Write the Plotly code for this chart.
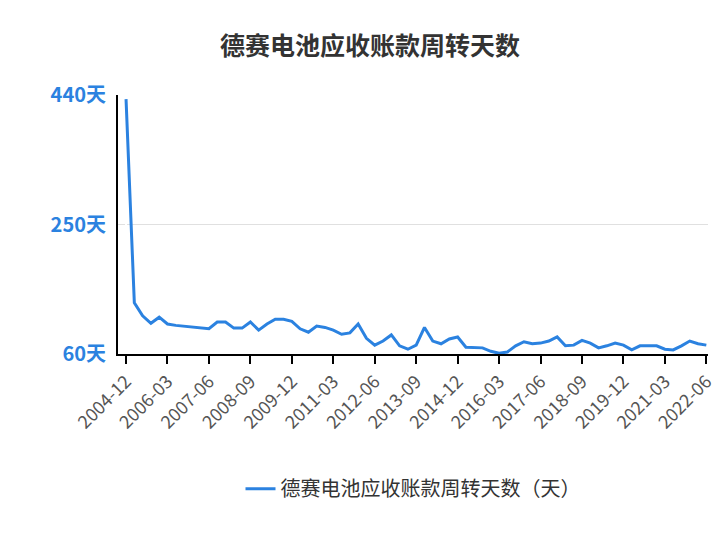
import pandas as pd
import plotly.graph_objects as go

quarters = [str(p.end_time.strftime("%Y-%m")) for p in pd.period_range("2004Q4", "2022Q2", freq="Q")]
days = [434, 135, 116, 105, 114, 104, 102, 101, 99, 98,
        97, 107, 107, 98, 98, 107, 95, 104, 111, 111,
        108, 97, 92, 101, 99, 95, 89, 91, 104, 83,
        73, 79, 88, 72, 67, 73, 99, 79, 75, 82,
        85, 70, 70, 69, 64, 61, 63, 72, 78, 75,
        76, 79, 85, 72, 73, 80, 76, 69, 72, 76,
        73, 66, 72, 72, 72, 67, 66, 72, 79, 75, 73]
tick_labels = quarters[::5]

fig = go.Figure()
fig.add_trace(go.Scatter(
    x=list(range(len(quarters))), y=days, mode="lines",
    name="德赛电池应收账款周转天数（天）",
    line=dict(color="#2b82e0", width=3),
))

fig.update_layout(
    width=724, height=540,
    paper_bgcolor="white", plot_bgcolor="white",
    font=dict(family="Noto Sans CJK SC", color="#333"),
    title=dict(text="<b>德赛电池应收账款周转天数</b>", x=0.5, y=0.945, xanchor="center",
               font=dict(size=25, color="#333")),
    margin=dict(l=110, r=24, t=87, b=194, autoexpand=False),
    showlegend=True,
    legend=dict(orientation="h", x=0.5, xanchor="center", y=-0.52, yanchor="middle",
                font=dict(size=20, color="#333")),
    xaxis=dict(
        range=[-0.97, 70.2], tickvals=list(range(0, len(quarters), 5)), ticktext=tick_labels,
        tickangle=-45, ticks="outside", ticklen=8, tickcolor="black", tickwidth=2,
        showline=True, linecolor="black", linewidth=2, showgrid=False, automargin=False,
        tickfont=dict(size=18, color="#555"),
    ),
    yaxis=dict(
        range=[60, 440], tickvals=[60, 250, 440], ticktext=["60天", "250天", "440天"],
        showline=True, linecolor="black", linewidth=2, gridcolor="#e0e0e0", automargin=False,
        tickfont=dict(size=20, color="#2b82e0", weight="bold"), zeroline=False,
        ticks="outside", ticklen=6, tickcolor="rgba(0,0,0,0)",
    ),
)

fig.write_html("out.html")
